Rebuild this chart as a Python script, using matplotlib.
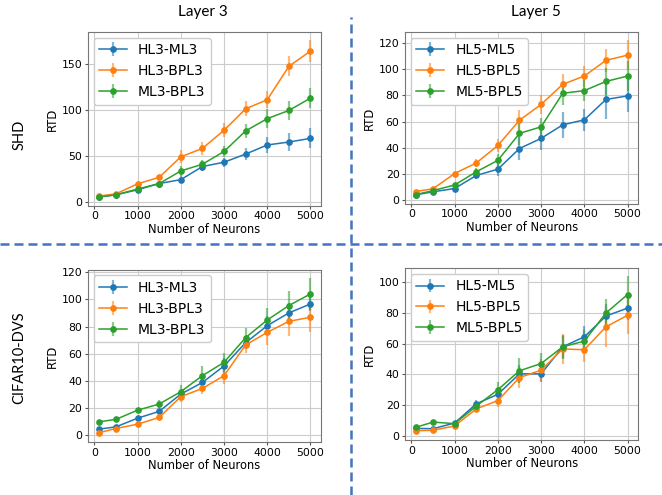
import matplotlib
matplotlib.use("Agg")
import matplotlib.pyplot as plt
from matplotlib.lines import Line2D
from matplotlib.ticker import MultipleLocator

neurons = [100, 500, 1000, 1500, 2000, 2500, 3000, 3500, 4000, 4500, 5000]
xticks = [0, 1000, 2000, 3000, 4000, 5000]
ytick_steps = [50, 20, 20, 20]

# SHD, Layer 3
shd_l3_labels = ["HL3-ML3", "HL3-BPL3", "ML3-BPL3"]
shd_l3_hl_ml = [5.9, 8, 13.5, 20.3, 24.5, 38.8, 43.5, 52.4, 62.3, 65.5, 69.5]
shd_l3_hl_ml_err = [1, 1, 1.5, 2, 4, 4.5, 5, 7, 9, 10, 11]
shd_l3_hl_bp = [6.6, 9, 20, 27, 49.4, 58.5, 78.3, 101.7, 111.6, 148, 164.6]
shd_l3_hl_bp_err = [1, 1, 1.5, 3, 7, 7, 7.5, 8, 9, 11, 12]
shd_l3_ml_bp = [5.5, 8, 14.3, 20.2, 34, 41.3, 55.2, 77.6, 91, 99.9, 113.4]
shd_l3_ml_bp_err = [1, 1, 1.5, 2, 5, 5, 6, 8, 10, 10, 11]

# SHD, Layer 5
shd_l5_labels = ["HL5-ML5", "HL5-BPL5", "ML5-BPL5"]
shd_l5_hl_ml = [4.3, 6.6, 9.1, 19, 23.8, 39.5, 47.2, 57.5, 61.3, 76.8, 79.5]
shd_l5_hl_ml_err = [1, 1.5, 1.5, 3, 5, 9, 8.5, 10, 8.5, 14.5, 12]
shd_l5_hl_bp = [6.8, 8.9, 20.5, 28.5, 41.8, 61, 73, 88.3, 94.6, 106.5, 110.5]
shd_l5_hl_bp_err = [1, 1, 1, 3, 5, 7.5, 7, 8, 8, 9, 11.5]
shd_l5_ml_bp = [4.5, 7.5, 11.8, 21.8, 30.5, 51, 56, 81.5, 83.5, 90.5, 94.6]
shd_l5_ml_bp_err = [1, 1, 1.5, 3, 5, 9, 7, 9, 8, 10, 11.5]

# CIFAR10-DVS, Layer 3
cif_l3_hl_ml = [4.4, 6.1, 12.5, 17.5, 30.2, 38.8, 50.9, 68.1, 80.6, 90, 96.6]
cif_l3_hl_ml_err = [1, 1, 1.5, 2, 3, 4, 6, 5, 7, 7, 5]
cif_l3_hl_bp = [1.7, 4.9, 8.1, 13, 28.3, 34.4, 43.8, 66.4, 75.7, 83.8, 86.8]
cif_l3_hl_bp_err = [1, 1, 1, 1.5, 4, 4, 6, 6, 9, 11, 11]
cif_l3_ml_bp = [9.8, 11.6, 18.4, 22.9, 32, 43.8, 53.6, 71.8, 84.8, 95.4, 104]
cif_l3_ml_bp_err = [1, 1, 1.5, 3, 5, 7, 7, 7, 9, 11, 12]

# CIFAR10-DVS, Layer 5
cif_l5_hl_ml = [4.9, 4.7, 8.4, 20.9, 27.1, 40.4, 40.4, 58, 64.5, 78, 83.2]
cif_l5_hl_ml_err = [1, 1, 1, 2.5, 3, 6, 5, 7, 7, 8, 8]
cif_l5_hl_bp = [3.4, 3.7, 6.5, 17.6, 23, 38, 42.8, 56.6, 56.1, 71, 78.5]
cif_l5_hl_bp_err = [1, 1, 1, 2, 4, 7, 7, 10, 8, 13, 12]
cif_l5_ml_bp = [5.6, 9, 8, 19.4, 30.1, 42.4, 47.1, 58, 61.7, 80, 92]
cif_l5_ml_bp_err = [1, 1, 1, 2, 5, 8, 7, 8, 7, 9, 12]

colors = ["#1f77b4", "#ff7f0e", "#2ca02c"]

panels = [
    ([0.133, 0.584, 0.352, 0.351], shd_l3_labels,
     [(shd_l3_hl_ml, shd_l3_hl_ml_err), (shd_l3_hl_bp, shd_l3_hl_bp_err), (shd_l3_ml_bp, shd_l3_ml_bp_err)]),
    ([0.612, 0.588, 0.352, 0.347], shd_l5_labels,
     [(shd_l5_hl_ml, shd_l5_hl_ml_err), (shd_l5_hl_bp, shd_l5_hl_bp_err), (shd_l5_ml_bp, shd_l5_ml_bp_err)]),
    ([0.133, 0.107, 0.352, 0.348], shd_l3_labels,
     [(cif_l3_hl_ml, cif_l3_hl_ml_err), (cif_l3_hl_bp, cif_l3_hl_bp_err), (cif_l3_ml_bp, cif_l3_ml_bp_err)]),
    ([0.612, 0.111, 0.352, 0.347], shd_l5_labels,
     [(cif_l5_hl_ml, cif_l5_hl_ml_err), (cif_l5_hl_bp, cif_l5_hl_bp_err), (cif_l5_ml_bp, cif_l5_ml_bp_err)]),
]

fig = plt.figure(figsize=(6.62, 4.95), dpi=100)

for (rect, labels, series), ystep in zip(panels, ytick_steps):
    ax = fig.add_axes(rect)
    for (vals, errs), lab, c in zip(series, labels, colors):
        cont = ax.errorbar(neurons, vals, yerr=errs, color=c, marker="o",
                           markersize=3.8, linewidth=1.1, elinewidth=1.6,
                           capsize=0, label=lab)
        for bl in cont[2]:
            bl.set_alpha(0.55)
    ax.set_xticks(xticks)
    ax.yaxis.set_major_locator(MultipleLocator(ystep))
    ax.grid(True, color="#cccccc", linewidth=0.8)
    ax.tick_params(labelsize=7.8, length=2.5, pad=1.5, color="#555555")
    ax.set_xlabel("Number of Neurons", fontsize=8.3, labelpad=1)
    ax.set_ylabel("RTD", fontsize=8.3, labelpad=2)
    for s in ax.spines.values():
        s.set_color("#777777")
    ax.legend(loc="upper left", fontsize=10, framealpha=1.0,
              borderaxespad=0.4, handlelength=2.0)

fig.text(0.307, 0.976, "Layer 3", ha="center", va="center", fontsize=11, family="Lato")
fig.text(0.810, 0.976, "Layer 5", ha="center", va="center", fontsize=11, family="Lato")
fig.text(0.029, 0.727, "SHD", ha="center", va="center", rotation=90, fontsize=10.5, family="Lato")
fig.text(0.029, 0.277, "CIFAR10-DVS", ha="center", va="center", rotation=90, fontsize=10.5, family="Lato")

dash_color = "#4472C4"
fig.add_artist(Line2D([0, 1], [0.507, 0.507], transform=fig.transFigure,
                      color=dash_color, linewidth=1.8, linestyle=(0, (3.6, 2.0))))
fig.add_artist(Line2D([0.530, 0.530], [0, 0.966], transform=fig.transFigure,
                      color=dash_color, linewidth=1.8, linestyle=(0, (3.6, 2.0))))

fig.savefig("out.png", dpi=100)
